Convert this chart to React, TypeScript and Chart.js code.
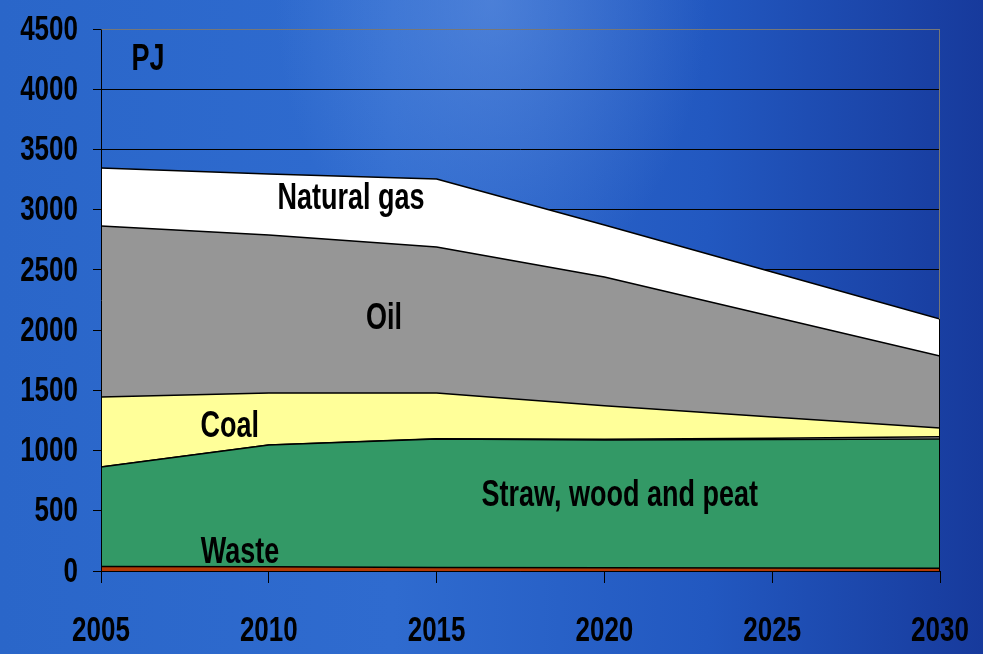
import { useEffect, useRef } from "react";
import { Chart, registerables } from "chart.js";

Chart.register(...registerables);

// ---- data (PJ) ----
const years = [2005, 2010, 2015, 2020, 2025, 2030];
const waste = [38, 36, 30, 28, 24, 22];
const straw = [825, 1010, 1066, 1060, 1068, 1074];
const other = [0, 0, 2, 5, 10, 18];
const coal = [582, 432, 380, 279, 177, 73];
const oil = [1420, 1312, 1212, 1069, 834, 598];
const gas = [481, 506, 565, 432, 370, 307];

const seriesNames = ["Waste", "Straw, wood and peat", "Other", "Coal", "Oil", "Natural gas"];
const seriesValues = [waste, straw, other, coal, oil, gas];
const seriesColors = ["#b33a06", "#339966", "#c8c8c8", "#ffff99", "#969696", "#ffffff"];

const yMin = 0;
const yMax = 4500;
const yStep = 500;
const xStep = 5;

// in-chart text labels, positioned in data coordinates (year, PJ)
const areaLabels = [
  { text: "PJ", x: 2006.4, y: 4245 },
  { text: "Natural gas", x: 2012.45, y: 3085 },
  { text: "Oil", x: 2013.43, y: 2090 },
  { text: "Coal", x: 2008.84, y: 1200 },
  { text: "Straw, wood and peat", x: 2020.46, y: 620 },
  { text: "Waste", x: 2009.14, y: 148 },
];

const FONT = "'Liberation Sans', Arial, sans-serif";
const STRETCH = 1.35;

function stretchedText(ctx: any, text: string, x: number, y: number) {
  ctx.save();
  ctx.translate(x, y);
  ctx.scale(1, STRETCH);
  ctx.fillText(text, 0, 0);
  ctx.restore();
}

const overlayPlugin = {
  id: "overlay",
  afterDatasetsDraw(chart: any) {
    const { ctx, chartArea: a, scales } = chart;
    const xs = scales.x;
    const ys = scales.y;
    ctx.save();
    const L = Math.round(a.left) + 0.5;
    const R = Math.round(a.right) - 0.5;
    const B = Math.round(a.bottom) + 0.5;
    const T = Math.round(a.top) + 0.5;
    const lastMeta = chart.getDatasetMeta(chart.data.datasets.length - 1);
    const topPt = lastMeta.data[lastMeta.data.length - 1];
    const stackTop = topPt ? topPt.y : a.bottom;
    ctx.lineWidth = 1;
    ctx.strokeStyle = "#777777";
    ctx.beginPath();
    ctx.moveTo(R, T);
    ctx.lineTo(R, stackTop);
    ctx.stroke();
    ctx.strokeStyle = "#000000";
    ctx.beginPath();
    ctx.moveTo(R, stackTop);
    ctx.lineTo(R, B);
    ctx.stroke();
    ctx.beginPath();
    ctx.moveTo(L, T);
    ctx.lineTo(L, B);
    ctx.stroke();
    ctx.beginPath();
    ctx.moveTo(L, B);
    ctx.lineTo(R, B);
    ctx.stroke();
    // area labels
    ctx.fillStyle = "#000000";
    ctx.font = `bold 27px ${FONT}`;
    ctx.textAlign = "center";
    ctx.textBaseline = "middle";
    for (const lb of areaLabels) {
      stretchedText(ctx, lb.text, xs.getPixelForValue(lb.x), ys.getPixelForValue(lb.y));
    }
    ctx.restore();
  },
  afterDraw(chart: any) {
    // axis tick labels, taken from the library's computed ticks, drawn slightly tall like the original
    const { ctx, scales, chartArea: a } = chart;
    const xs = scales.x;
    const ys = scales.y;
    ctx.save();
    ctx.fillStyle = "#000000";
    ctx.font = `bold 26px ${FONT}`;
    ctx.textBaseline = "middle";
    ctx.textAlign = "right";
    for (const t of ys.ticks) {
      stretchedText(ctx, String(t.value), a.left - 23, ys.getPixelForValue(t.value) + 1);
    }
    ctx.textAlign = "center";
    for (const t of xs.ticks) {
      stretchedText(ctx, String(t.value), xs.getPixelForValue(t.value), a.bottom + 60);
    }
    ctx.restore();
  },
};

export default function App() {
  const canvasRef = useRef<HTMLCanvasElement | null>(null);

  useEffect(() => {
    document.body.style.margin = "0";
    const canvas = canvasRef.current;
    if (!canvas) return;

    const datasets = seriesValues.map((vals, i) => ({
      label: seriesNames[i],
      data: years.map((yr, j) => ({ x: yr, y: vals[j] })),
      backgroundColor: seriesColors[i],
      borderColor: "#000000",
      borderWidth: 1.5,
      pointRadius: 0,
      pointHoverRadius: 0,
      tension: 0,
      fill: i === 0 ? "origin" : "-1",
    }));

    const zeroPad = (s: any) => {
      s.paddingLeft = 0;
      s.paddingRight = 0;
      s.paddingTop = 0;
      s.paddingBottom = 0;
    };

    const chart = new Chart(canvas, {
      type: "line",
      data: { datasets },
      plugins: [overlayPlugin],
      options: {
        animation: false,
        responsive: false,
        maintainAspectRatio: false,
        layout: { padding: { top: 29, right: 43, left: 0, bottom: 0 } },
        plugins: {
          legend: { display: false },
          tooltip: { enabled: false },
          title: { display: false },
        },
        elements: { line: { borderJoinStyle: "round" } },
        scales: {
          x: {
            type: "linear",
            min: years[0],
            max: years[years.length - 1],
            afterFit: (s: any) => {
              s.height = 83;
              zeroPad(s);
            },
            grid: {
              drawOnChartArea: false,
              drawTicks: true,
              tickLength: 12,
              color: "#000000",
              tickColor: "#000000",
              lineWidth: 1,
            },
            border: { display: false },
            ticks: {
              stepSize: xStep,
              autoSkip: false,
              maxRotation: 0,
              display: false,
              callback: (v: any) => String(v),
            },
          },
          y: {
            type: "linear",
            stacked: true,
            min: yMin,
            max: yMax,
            afterFit: (s: any) => {
              s.width = 101;
              zeroPad(s);
            },
            grid: {
              drawTicks: true,
              tickLength: 8,
              color: (c: any) => (c.tick && c.tick.value === yMax ? "#777777" : "#000000"),
              tickColor: "#000000",
              lineWidth: 1,
            },
            border: { display: false },
            ticks: {
              stepSize: yStep,
              autoSkip: false,
              display: false,
              callback: (v: any) => String(v),
            },
          },
        },
      },
    });

    return () => {
      chart.destroy();
    };
  }, []);

  return (
    <div
      style={{
        position: "fixed",
        left: 0,
        top: 0,
        width: 983,
        height: 654,
        background:
          "radial-gradient(ellipse 22% 45% at 50% 0%, rgba(115,160,232,0.45) 0%, rgba(115,160,232,0) 100%), linear-gradient(to right, #2a66c9 0%, #2f6bcf 40%, #2258c0 72%, #173a9c 100%)",
      }}
    >
      <canvas ref={canvasRef} width={983} height={654} style={{ display: "block" }} />
    </div>
  );
}
